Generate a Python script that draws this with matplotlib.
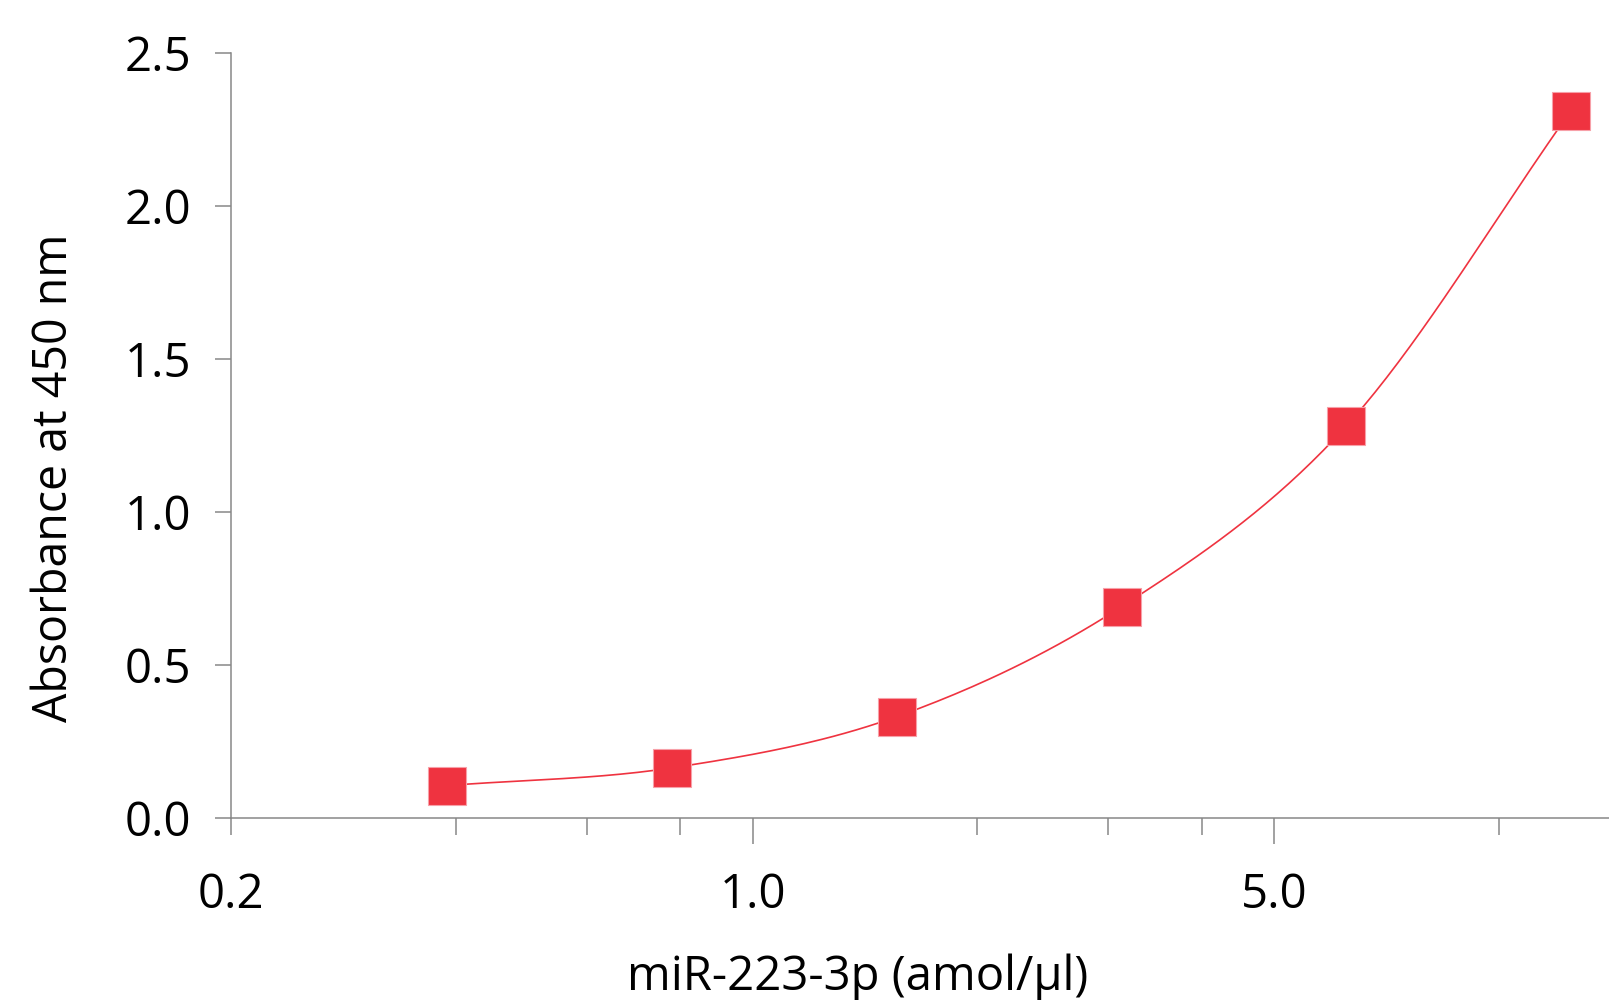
import numpy as np
import matplotlib
matplotlib.use("Agg")
import matplotlib.pyplot as plt
from matplotlib.ticker import FixedLocator, NullFormatter

# standard curve values
conc = [0.39, 0.78, 1.56, 3.125, 6.25, 12.5]        # amol/ul
absorbance = [0.105, 0.163, 0.33, 0.69, 1.28, 2.31]  # OD 450 nm

major_ticks = [0.2, 1.0, 5.0]
major_labels = ["0.2", "1.0", "5.0"]
minor_ticks = [0.4, 0.6, 0.8, 2.0, 3.0, 4.0, 10.0]
y_ticks = [0.0, 0.5, 1.0, 1.5, 2.0, 2.5]

red = "#EF3340"
grey = "#878787"

plt.rcParams["font.family"] = ["Open Sans", "DejaVu Sans"]


def smooth_line(x, y, steps=40):
    # Catmull-Rom style smoothing (like a spreadsheet "smoothed line"), in log-x space
    lx = np.log10(x)
    y = np.asarray(y, dtype=float)
    px = np.concatenate([[2 * lx[0] - lx[1]], lx, [2 * lx[-1] - lx[-2]]])
    py = np.concatenate([[2 * y[0] - y[1]], y, [2 * y[-1] - y[-2]]])
    out_x, out_y = [], []
    t = np.linspace(0, 1, steps)
    for i in range(1, len(px) - 2):
        p0, p1, p2, p3 = (np.array([px[j], py[j]]) for j in range(i - 1, i + 3))
        c1 = p1 + (p2 - p0) / 6
        c2 = p2 - (p3 - p1) / 6
        pts = ((1 - t) ** 3)[:, None] * p1 + (3 * (1 - t) ** 2 * t)[:, None] * c1 \
            + (3 * (1 - t) * t ** 2)[:, None] * c2 + (t ** 3)[:, None] * p2
        out_x.extend(pts[:, 0])
        out_y.extend(pts[:, 1])
    return 10 ** np.array(out_x), np.array(out_y)


fig = plt.figure(figsize=(16.09, 10), dpi=100)
ax = fig.add_axes([0.1436, 0.1823, 0.8564, 0.7650])

sx, sy = smooth_line(conc, absorbance)
ax.plot(sx, sy, color=red, lw=1.2, zorder=2, solid_capstyle="round")
ax.plot(conc, absorbance, ls="none", marker="s", markersize=28,
        markerfacecolor=red, markeredgecolor="#F7A0A8", markeredgewidth=0.8, zorder=3)

ax.set_xscale("log")
ax.set_xlim(0.2, 14.06)
ax.set_ylim(0, 2.5)

ax.xaxis.set_major_locator(FixedLocator(major_ticks))
ax.set_xticklabels(major_labels)
ax.xaxis.set_minor_locator(FixedLocator(minor_ticks))
ax.xaxis.set_minor_formatter(NullFormatter())
ax.set_yticks(y_ticks)
ax.set_yticklabels([f"{v:.1f}" for v in y_ticks])

for s in ["top", "right"]:
    ax.spines[s].set_visible(False)
for s in ["left", "bottom"]:
    ax.spines[s].set_color(grey)
    ax.spines[s].set_linewidth(1.1)
ax.spines["left"].set_bounds(0, 2.5)

ax.tick_params(axis="x", which="major", length=19, width=1.1, color=grey,
               labelsize=34, pad=20, direction="out")
ax.tick_params(axis="x", which="minor", length=12, width=1.1, color=grey, direction="out")
ax.tick_params(axis="y", length=11.5, width=1.1, color=grey, labelsize=34, pad=17)
# the 0.2 tick is short like the minor ones
ax.xaxis.get_major_ticks()[0].tick1line.set_markersize(12)

fig.text(0.533, 0.010, "miR-223-3p (amol/µl)", ha="center", va="baseline", fontsize=34)
fig.text(0.034, 0.522, "Absorbance at 450 nm", ha="center", va="center",
         rotation=90, fontsize=33.5)

fig.savefig("out.png", dpi=100)
